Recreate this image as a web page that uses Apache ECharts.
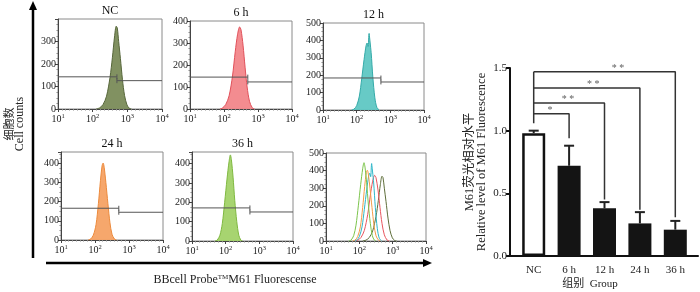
<!DOCTYPE html>
<html><head><meta charset="utf-8">
<script src="https://cdn.jsdelivr.net/npm/echarts@6/dist/echarts.min.js"></script>
<style>html,body{margin:0;padding:0;background:#fff}#c{width:700px;height:292px}</style>
</head><body><div id="c"></div>
<script>
// ---------- DATA ----------
const panelTitles = ['NC', '6 h', '12 h', '24 h', '36 h', ''];
const xTickExponents = [1, 2, 3, 4];          // 10^1 .. 10^4
const yMaxCounts = [400, 400, 500, 460, 460, 500];
// histograms: [log10 fluorescence, cell count]
const histNC  = [[2.1,0],[2.2,5],[2.3,20],[2.4,57],[2.5,140],[2.57,230],[2.63,320],[2.68,368],[2.71,360],[2.75,300],[2.8,225],[2.86,130],[2.92,60],[2.99,18],[3.06,3],[3.12,0]];
const hist6h  = [[1.88,0],[1.95,4],[2.05,20],[2.15,60],[2.25,150],[2.33,260],[2.4,340],[2.46,373],[2.5,360],[2.56,290],[2.62,190],[2.68,100],[2.75,35],[2.83,6],[2.9,0]];
const hist12h = [[1.85,0],[1.92,5],[2.0,25],[2.08,80],[2.15,180],[2.22,290],[2.28,370],[2.31,385],[2.34,365],[2.37,440],[2.39,440],[2.43,330],[2.48,190],[2.54,70],[2.6,15],[2.67,0]];
const hist24h = [[1.8,0],[1.87,5],[1.95,25],[2.03,80],[2.1,190],[2.16,310],[2.21,390],[2.24,402],[2.27,380],[2.32,300],[2.38,190],[2.44,90],[2.5,30],[2.57,6],[2.63,0]];
const hist36h = [[1.68,0],[1.75,5],[1.83,30],[1.9,90],[1.97,200],[2.04,320],[2.1,410],[2.14,445],[2.17,420],[2.22,330],[2.27,210],[2.33,100],[2.39,30],[2.45,5],[2.5,0]];
// gates: [split (log10), left-segment level, right-segment level]
const gateNC  = [2.70, 143, 126];
const gate6h  = [2.70, 145, 123];
const gate12h = [2.72, 184, 161];
const gate24h = [2.70, 166, 145];
const gate36h = [2.72, 171, 150];

const barCategories = ['NC', '6 h', '12 h', '24 h', '36 h'];
const barValues = [0.98, 0.72, 0.38, 0.26, 0.21];
const barErrors = [0.02, 0.16, 0.05, 0.09, 0.07];
const barYTicks = [0, 0.5, 1.0, 1.5];
const sigLabels = ['*', '* *', '* *', '* *'];
const sigLevels = [1.135, 1.22, 1.34, 1.47];
const sigEnds = [0.94, 0.45, 0.37, 0.31];
const sigStarX = [0.96, 1.47, 2.18, 2.88];   // on 0..5 band scale
const ncStemBottom = 1.06;

// ---------- STYLE / LAYOUT ----------
const SERIF = '"Liberation Serif","Times New Roman","Noto Sans CJK SC",serif';
const histSets = [histNC, hist6h, hist12h, hist24h, hist36h];
const gateSets = [gateNC, gate6h, gate12h, gate24h, gate36h];
const fills = ['rgba(118,136,84,0.92)', 'rgba(242,128,132,0.9)', 'rgba(86,196,192,0.9)', 'rgba(245,160,96,0.92)', 'rgba(160,208,100,0.92)'];
const edges = ['#56663a', '#e0505a', '#34aaa8', '#ec8a3c', '#7fb840'];
const overlayColors = ['#5e6e3a', '#e8555e', '#2eb6c8', '#f39c48', '#7cc44c'];
const grids = [
  {left: 58, top: 19, width: 104, height: 90},
  {left: 190, top: 21, width: 102, height: 88},
  {left: 323, top: 23, width: 101, height: 87},
  {left: 61, top: 152, width: 102, height: 88},
  {left: 192, top: 152, width: 101, height: 89},
  {left: 326, top: 153, width: 100, height: 88}
];
const hideMax = [true, false, false, true, true, false];

const option = {animation: false, backgroundColor: '#fff', grid: [], xAxis: [], yAxis: [], series: [], graphic: []};

grids.forEach((g, i) => {
  option.grid.push(Object.assign({show: true, borderColor: '#8a8a8a', borderWidth: 1, backgroundColor: 'rgba(0,0,0,0)', outerBoundsMode: 'none', containLabel: false}, g));
  option.xAxis.push({
    gridIndex: i, type: 'value', min: xTickExponents[0], max: xTickExponents[xTickExponents.length - 1], interval: 1,
    axisLine: {show: true, lineStyle: {color: '#444', width: 1}},
    axisTick: {show: true, length: 3, lineStyle: {color: '#444'}},
    minorTick: {show: true, splitNumber: 9, length: 1.5, lineStyle: {color: '#888'}},
    splitLine: {show: false},
    axisLabel: {
      margin: 4, color: '#222',
      formatter: v => '{b|10}{s|' + v + '}',
      rich: {b: {fontFamily: SERIF, fontSize: 10, lineHeight: 12, color: '#222'},
             s: {fontFamily: SERIF, fontSize: 6.5, lineHeight: 7, verticalAlign: 'top', color: '#222'}}
    }
  });
  option.yAxis.push({
    gridIndex: i, type: 'value', min: 0, max: yMaxCounts[i], interval: 100,
    axisLine: {show: true, lineStyle: {color: '#444', width: 1}},
    axisTick: {show: true, length: 3, lineStyle: {color: '#444'}},
    minorTick: {show: true, splitNumber: 4, length: 1.5, lineStyle: {color: '#888'}},
    splitLine: {show: false},
    axisLabel: {margin: 2, fontFamily: SERIF, fontSize: 10, color: '#222', showMaxLabel: !hideMax[i]}
  });
  if (panelTitles[i]) {
    option.graphic.push({type: 'text', x: g.left + g.width / 2, y: g.top - 8,
      style: {text: panelTitles[i], font: '12px ' + SERIF, fill: '#111', align: 'center', verticalAlign: 'middle'}});
  }
});

// single histograms + gates
histSets.forEach((h, i) => {
  option.series.push({type: 'line', xAxisIndex: i, yAxisIndex: i, data: h, smooth: 0.3, showSymbol: false, symbol: 'none',
    lineStyle: {color: edges[i], width: 1}, areaStyle: {color: fills[i], opacity: 1}, z: 2});
  const [s, L, R] = gateSets[i];
  const c = yMaxCounts[i] * 0.028;
  const segs = [[[1, L], [s, L]], [[s, L - c], [s, L + c]], [[s, R - c], [s, R + c]], [[s, R], [4, R]]];
  segs.forEach(seg => option.series.push({type: 'line', xAxisIndex: i, yAxisIndex: i, data: seg, symbol: 'none',
    lineStyle: {color: '#555', width: 1}, z: 3}));
});
// overlay panel
histSets.forEach((h, k) => {
  option.series.push({type: 'line', xAxisIndex: 5, yAxisIndex: 5, data: h, smooth: 0.3, symbol: 'none',
    lineStyle: {color: overlayColors[k], width: 1}, z: 3});
});

// ---------- BAR CHART ----------
option.grid.push({left: 510, top: 68, width: 188, height: 188, outerBoundsMode: 'none', containLabel: false}); // 6
option.grid.push({left: 516, top: 68, width: 177, height: 188, outerBoundsMode: 'none', containLabel: false}); // 7
option.xAxis.push({gridIndex: 6, type: 'value', min: 0, max: 1, axisLine: {show: true, lineStyle: {color: '#111', width: 2}},
  axisTick: {show: false}, axisLabel: {show: false}, splitLine: {show: false}});
option.xAxis.push({gridIndex: 7, type: 'category', data: barCategories, axisLine: {show: false}, axisTick: {show: false},
  axisLabel: {margin: 9, fontFamily: SERIF, fontSize: 11, color: '#222'}});
option.xAxis.push({gridIndex: 7, type: 'value', min: 0, max: 5, show: false});
option.yAxis.push({gridIndex: 6, type: 'value', min: barYTicks[0], max: barYTicks[barYTicks.length - 1], interval: 0.5,
  axisLine: {show: true, lineStyle: {color: '#111', width: 2}},
  axisTick: {show: true, length: 4, lineStyle: {color: '#111', width: 2}},
  splitLine: {show: false},
  axisLabel: {margin: 3, fontFamily: SERIF, fontSize: 11, color: '#222', formatter: v => v.toFixed(1)},
  name: 'M61荧光相对水平\nRelative level of M61 Fluorescence', nameLocation: 'middle', nameGap: 22, nameRotate: 90,
  nameTextStyle: {fontFamily: SERIF, fontSize: 12.5, lineHeight: 12, color: '#222'}});
option.yAxis.push({gridIndex: 7, type: 'value', min: 0, max: 1.5, show: false});

option.series.push({type: 'bar', xAxisIndex: 7, yAxisIndex: 7, barWidth: 23, z: 2,
  data: barValues.map((v, i) => i === 0
    ? {value: v, itemStyle: {color: '#fff', borderColor: '#111', borderWidth: 2.5}}
    : {value: v, itemStyle: {color: '#141414'}})});
option.series.push({type: 'custom', xAxisIndex: 7, yAxisIndex: 7, z: 5,
  data: barValues.map((v, i) => [i, v, barErrors[i]]),
  encode: {x: 0, y: 1},
  renderItem: (params, api) => {
    const x = api.value(0), v = api.value(1), e = api.value(2);
    const b = api.coord([x, v]), t = api.coord([x, v + e]);
    return {type: 'group', children: [
      {type: 'line', shape: {x1: b[0], y1: b[1], x2: t[0], y2: t[1]}, style: {stroke: '#222', lineWidth: 2}},
      {type: 'line', shape: {x1: t[0] - 5, y1: t[1], x2: t[0] + 5, y2: t[1]}, style: {stroke: '#222', lineWidth: 2}}
    ]};
  }});
// significance brackets
option.series.push({type: 'line', xAxisIndex: 8, yAxisIndex: 7, symbol: 'none', z: 4,
  data: [[0.5, ncStemBottom], [0.5, sigLevels[sigLevels.length - 1]]], lineStyle: {color: '#333', width: 1.5}});
sigLevels.forEach((lv, k) => {
  option.series.push({type: 'line', xAxisIndex: 8, yAxisIndex: 7, symbol: 'none', z: 4,
    data: [[0.5, lv], [k + 1.5, lv], [k + 1.5, sigEnds[k]]], lineStyle: {color: '#333', width: 1.5}});
});
option.series.push({type: 'scatter', xAxisIndex: 8, yAxisIndex: 7, symbolSize: 2, z: 6,
  itemStyle: {color: 'rgba(0,0,0,0)'},
  data: sigLabels.map((s, k) => ({name: s, value: [sigStarX[k], sigLevels[k] + 0.03]})),
  label: {show: true, position: 'inside', formatter: p => p.name, fontFamily: SERIF, fontSize: 10, color: '#333'}});

// ---------- big axes & labels ----------
option.graphic.push(
  {type: 'line', shape: {x1: 33, y1: 8, x2: 33, y2: 258}, style: {stroke: '#000', lineWidth: 2.5}},
  {type: 'polygon', shape: {points: [[33, 1], [29, 10], [37, 10]]}, style: {fill: '#000'}},
  {type: 'line', shape: {x1: 46, y1: 263, x2: 424, y2: 263}, style: {stroke: '#000', lineWidth: 2.5}},
  {type: 'polygon', shape: {points: [[432, 263], [423, 259], [423, 267]]}, style: {fill: '#000'}},
  {type: 'text', x: 9, y: 124, rotation: Math.PI / 2,
    style: {text: '细胞数', font: '11px "Noto Sans CJK SC", serif', fill: '#222', align: 'center', verticalAlign: 'middle'}},
  {type: 'text', x: 20, y: 124, rotation: Math.PI / 2,
    style: {text: 'Cell counts', font: '12px ' + SERIF, fill: '#222', align: 'center', verticalAlign: 'middle'}},
  {type: 'text', x: 235, y: 280,
    style: {text: 'BBcell Probe{s|TM}M61 Fluorescense', font: '12px ' + SERIF, fill: '#222', align: 'center', verticalAlign: 'middle',
      rich: {s: {fontFamily: SERIF, fontSize: 7, verticalAlign: 'top', fill: '#222'}}}},
  {type: 'text', x: 590, y: 284,
    style: {text: '组别  Group', font: '11px ' + SERIF, fill: '#222', align: 'center', verticalAlign: 'middle'}}
);

const chart = echarts.init(document.getElementById('c'), null, {renderer: 'canvas'});
chart.setOption(option);
</script>
</body></html>
